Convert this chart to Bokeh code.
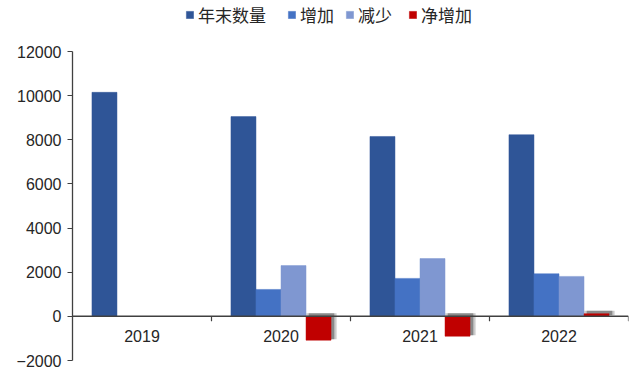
from bokeh.plotting import figure
from bokeh.models import FactorRange, Range1d, FixedTicker, ColumnDataSource, Legend, LegendItem, Span
from bokeh.transform import dodge
from bokeh.core.properties import value
from bokeh.embed import file_html
from bokeh.resources import INLINE

nan = float("nan")

years = ["2019", "2020", "2021", "2022"]
year_end = [10150, 9050, 8150, 8230]
increase = [nan, 1220, 1720, 1930]
decrease = [nan, 2300, 2620, 1810]
net_increase = [nan, -1080, -900, 120]
series_names = ["年末数量", "增加", "减少", "净增加"]
y_ticks = [-2000, 0, 2000, 4000, 6000, 8000, 10000, 12000]

colors = ["#2F5597", "#4472C4", "#7F97D1", "#C00000"]
offsets = [-0.27, -0.09, 0.09, 0.27]
bar_w = 0.18
legend_x = [185, 287, 345, 408]

W, H = 635, 368
FRAME_L, FRAME_R, AXIS_T, FRAME_B = 72, 628, 51, 360
px_x = len(years) / (FRAME_R - FRAME_L)
px_y = (y_ticks[-1] - y_ticks[0]) / (FRAME_B - AXIS_T)
y_top = y_ticks[-1] + AXIS_T * px_y

src = ColumnDataSource(dict(
    year=years, year_end=year_end, increase=increase, decrease=decrease, net=net_increase,
    shadow_top=[(max(v, 0) + 3 * px_y) if v == v else nan for v in net_increase],
    shadow_bot=[(min(v, 0) + 1 * px_y) if v == v else nan for v in net_increase],
))

p = figure(width=W, height=H, x_range=FactorRange(*years),
           y_range=Range1d(y_ticks[0], y_top),
           output_backend="svg", toolbar_location=None, x_axis_location=None,
           min_border_left=FRAME_L, min_border_right=W - FRAME_R,
           min_border_bottom=H - FRAME_B, min_border_top=0)
p.outline_line_color = None
p.grid.visible = False
p.background_fill_color = "white"

renderers = []
keys = ["year_end", "increase", "decrease", "net"]
for i, (k, c, o) in enumerate(zip(keys, colors, offsets)):
    if k == "net":
        for j, a in enumerate([0.12, 0.18, 0.25]):
            grow = (2 - j) * 1.5
            p.vbar(x=dodge("year", o + 3 * px_x, range=p.x_range), width=bar_w + 2 * grow * px_x,
                   top="shadow_top", bottom="shadow_bot", source=src,
                   fill_color="black", fill_alpha=a, line_color=None)
    r = p.vbar(x=dodge("year", o, range=p.x_range), width=bar_w, top=k, bottom=0, source=src,
               fill_color=c, line_color=c, line_alpha=0.6, line_width=0.8)
    renderers.append(r)

zero = Span(location=0, dimension="width", line_color="#404040", line_width=1.5)
p.add_layout(zero)

bounds = list(range(1, len(years) + 1))
p.segment(x0=bounds, y0=[0] * len(bounds), x1=bounds, y1=[-5 * px_y] * len(bounds),
          line_color="#404040", line_width=1.2)

p.text(x=years, y=[0] * len(years), text=years, y_offset=20,
       text_align="center", text_baseline="middle",
       text_font=value("Liberation Sans"), text_font_size="16px", text_color="#262626")

ax = p.yaxis[0]
ax.ticker = FixedTicker(ticks=y_ticks)
ax.bounds = (y_ticks[0], y_ticks[-1])
ax.minor_tick_line_color = None
ax.major_tick_in = 0
ax.major_tick_out = 5
ax.axis_line_color = "#404040"
ax.major_tick_line_color = "#404040"
ax.axis_line_width = 1.3
ax.major_label_text_font = "Liberation Sans"
ax.major_label_text_font_size = "16px"
ax.major_label_text_color = "#262626"
ax.major_label_standoff = 6
ax.formatter.use_scientific = False

for n, r, lx in zip(series_names, renderers, legend_x):
    legend = Legend(items=[LegendItem(label=n, renderers=[r])],
                    orientation="horizontal", location=(lx - FRAME_L, FRAME_B - 17 - 10),
                    border_line_color=None, background_fill_alpha=0,
                    label_text_font="Noto Sans CJK SC", label_text_font_size="17px",
                    label_text_color="#262626", label_height=20,
                    glyph_width=9, glyph_height=9, label_standoff=4, spacing=0,
                    padding=0, margin=0)
    p.add_layout(legend, "center")

open("out.html", "w").write(file_html(p, INLINE))
